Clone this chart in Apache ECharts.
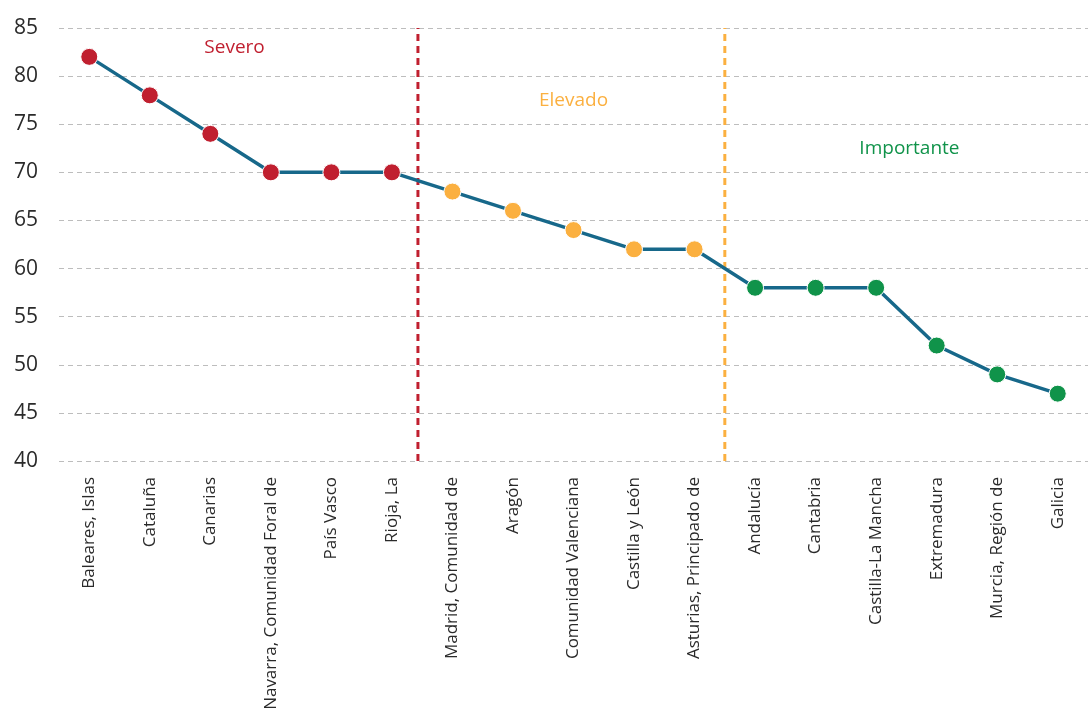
<!DOCTYPE html>
<html>
<head>
<meta charset="utf-8">
<script src="https://cdn.jsdelivr.net/npm/echarts@6/dist/echarts.min.js"></script>
<style>
  html, body { margin: 0; padding: 0; background: #fff; }
  #chart { width: 1090px; height: 713px; }
</style>
</head>
<body>
<div id="chart"></div>
<script>
// datos
var regiones = ['Baleares, Islas', 'Cataluña', 'Canarias', 'Navarra, Comunidad Foral de', 'País Vasco', 'Rioja, La',
  'Madrid, Comunidad de', 'Aragón', 'Comunidad Valenciana', 'Castilla y León', 'Asturias, Principado de',
  'Andalucía', 'Cantabria', 'Castilla-La Mancha', 'Extremadura', 'Murcia, Región de', 'Galicia'];
var valores = [82, 78, 74, 70, 70, 70, 68, 66, 64, 62, 62, 58, 58, 58, 52, 49, 47];
var niveles = ['Severo', 'Severo', 'Severo', 'Severo', 'Severo', 'Severo',
  'Elevado', 'Elevado', 'Elevado', 'Elevado', 'Elevado',
  'Importante', 'Importante', 'Importante', 'Importante', 'Importante', 'Importante'];
var yTicks = [40, 45, 50, 55, 60, 65, 70, 75, 80, 85];
// separadores (posición en índice de categoría) y etiquetas de nivel
var cortes = [5.43, 10.5];
var etiquetas = ['Severo', 'Elevado', 'Importante'];
var etiquetaPos = [[2.4, 83], [8.0, 77.5], [13.55, 72.5]];

var colores = { 'Severo': '#c01f2f', 'Elevado': '#fbb040', 'Importante': '#10934a' };

var chart = echarts.init(document.getElementById('chart'));

var option = {
  animation: false,
  grid: { left: 59, right: 2, top: 28, bottom: 252 },
  xAxis: [{
    type: 'category',
    data: regiones,
    boundaryGap: true,
    axisLine: { show: false },
    axisTick: { show: false },
    axisLabel: {
      rotate: 90, interval: 0, margin: 16,
      fontFamily: 'Open Sans', fontSize: 17, color: '#2a2a2a'
    }
  }, {
    type: 'value', min: -0.5, max: 16.5, show: false
  }],
  yAxis: {
    type: 'value',
    min: yTicks[0], max: yTicks[yTicks.length - 1], interval: 5,
    axisLine: { show: false },
    axisTick: { show: false },
    axisLabel: { margin: 21, fontFamily: 'Open Sans', fontSize: 21, color: '#2a2a2a' },
    splitLine: { lineStyle: { type: [5, 4], color: '#bdbdbd', width: 1 } }
  },
  series: [{
    type: 'line',
    data: valores.map(function (v, i) {
      return { value: v, itemStyle: { color: colores[niveles[i]] } };
    }),
    symbol: 'circle', symbolSize: 17,
    lineStyle: { color: '#17688a', width: 3.5 },
    itemStyle: { borderColor: '#fff', borderWidth: 1 },
    z: 5
  }, {
    type: 'line', xAxisIndex: 1,
    data: [[cortes[0], 40], [cortes[0], 85]],
    symbol: 'none',
    lineStyle: { color: colores['Severo'], width: 3, type: [7, 5] },
    z: 3
  }, {
    type: 'line', xAxisIndex: 1,
    data: [[cortes[1], 40], [cortes[1], 85]],
    symbol: 'none',
    lineStyle: { color: colores['Elevado'], width: 3, type: [7, 5] },
    z: 3
  }, {
    type: 'scatter', xAxisIndex: 1,
    symbolSize: 0,
    itemStyle: { opacity: 1 },
    data: etiquetas.map(function (t, i) {
      return {
        value: etiquetaPos[i], name: t,
        label: {
          show: true, position: 'inside', formatter: t,
          color: colores[t], fontFamily: 'Open Sans', fontSize: 19
        }
      };
    }),
    z: 6
  }]
};

chart.setOption(option);
</script>
</body>
</html>
